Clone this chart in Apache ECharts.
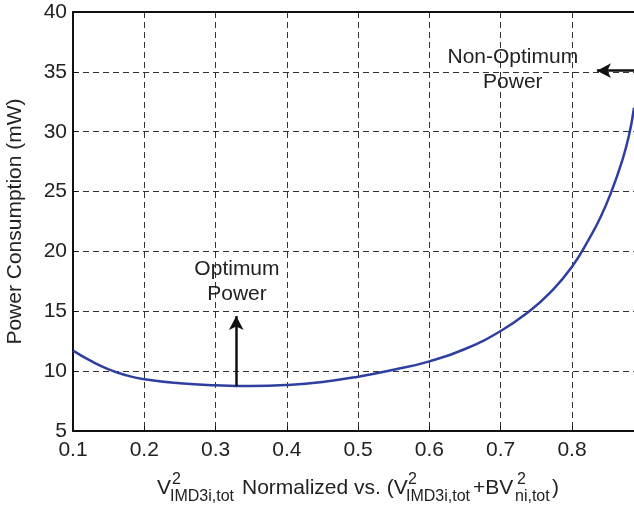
<!DOCTYPE html>
<html><head><meta charset="utf-8">
<script src="https://cdn.jsdelivr.net/npm/echarts@6/dist/echarts.min.js"></script>
<style>html,body{margin:0;padding:0;background:#fff}#c{width:634px;height:509px}</style>
</head><body><div id="c"></div>
<script>
// Data
const xValues = [0.10, 0.125, 0.15, 0.175, 0.20, 0.25, 0.30, 0.35, 0.40, 0.45, 0.50, 0.55, 0.60, 0.65, 0.70, 0.74, 0.77, 0.80, 0.825, 0.84, 0.855, 0.87, 0.88, 0.887];
const powerValues = [11.71, 10.85, 10.15, 9.65, 9.32, 8.99, 8.82, 8.75, 8.84, 9.1, 9.54, 10.12, 10.82, 11.85, 13.35, 15.0, 16.6, 18.72, 21.15, 22.85, 24.95, 27.5, 29.7, 32.0];
const xTicks = [0.1, 0.2, 0.3, 0.4, 0.5, 0.6, 0.7, 0.8];
const yTicks = [5, 10, 15, 20, 25, 30, 35, 40];
const optArrow = [[0.329, 8.75], [0.329, 14.6]];
const nonOptArrow = [[0.887, 35.1], [0.835, 35.1]];
const optLabel = [0.33, 17.45, 'Optimum\nPower'];
const nonOptLabel = [0.717, 35.2, 'Non-Optimum\nPower'];

const FONT = 'Liberation Sans';
const FS = 21, SFS = 16;
const chart = echarts.init(document.getElementById('c'));
const dash = {color: '#333', width: 1, type: [6, 4]};
chart.setOption({
  animation: false,
  grid: {left: 73, top: 12, right: 0, bottom: 78, containLabel: false, outerBoundsMode: 'none'},
  xAxis: [{
    type: 'value', min: 0.1, max: 0.887, interval: 0.1,
    axisLine: {lineStyle: {color: '#111', width: 2}},
    axisTick: {show: true, inside: true, length: 5, lineStyle: {color: '#111', width: 1}},
    axisLabel: {color: '#222', fontFamily: FONT, fontSize: FS, margin: 9, showMaxLabel: false,
      formatter: v => xTicks.some(t => Math.abs(t - v) < 1e-6) ? v.toFixed(1) : ''},
    splitLine: {show: true, lineStyle: dash}
  }, {
    type: 'value', position: 'top', min: 0.1, max: 0.887,
    axisLine: {show: true, lineStyle: {color: '#111', width: 2}},
    axisTick: {show: false}, axisLabel: {show: false}, splitLine: {show: false}
  }],
  yAxis: {
    type: 'value', min: 5, max: 40, interval: 5,
    name: 'Power Consumption (mW)', nameLocation: 'middle', nameGap: 47,
    nameTextStyle: {color: '#222', fontFamily: FONT, fontSize: FS},
    axisLine: {show: true, lineStyle: {color: '#111', width: 2}},
    axisTick: {show: true, inside: true, length: 5, lineStyle: {color: '#111', width: 1}},
    axisLabel: {color: '#222', fontFamily: FONT, fontSize: FS, margin: 6,
      formatter: v => yTicks.includes(v) ? String(v) : ''},
    splitLine: {show: true, lineStyle: dash}
  },
  series: [{
    type: 'line', smooth: 0.5, symbol: 'none',
    data: xValues.map((x, i) => [x, powerValues[i]]),
    lineStyle: {color: '#2f3f9f', width: 2.5},
    markLine: {
      silent: true, animation: false, symbolSize: [11, 14],
      lineStyle: {color: '#111', width: 2.5, type: 'solid'},
      label: {show: false},
      data: [
        [{coord: optArrow[0], symbol: 'none'}, {coord: optArrow[1], symbol: 'arrow'}],
        [{coord: nonOptArrow[0], symbol: 'none'}, {coord: nonOptArrow[1], symbol: 'arrow'}]
      ]
    },
    markPoint: {
      silent: true, symbol: 'circle', symbolSize: 0,
      label: {show: true, position: 'inside', color: '#222', fontFamily: FONT, fontSize: FS, lineHeight: 25,
        formatter: p => p.name},
      data: [
        {name: optLabel[2], coord: [optLabel[0], optLabel[1]]},
        {name: nonOptLabel[2], coord: [nonOptLabel[0], nonOptLabel[1]]}
      ]
    }
  }],
  graphic: [
    {type: 'text', left: 157, top: 478, style: {text: 'V', font: FS + 'px ' + FONT, fill: '#222'}},
    {type: 'text', left: 172, top: 472, style: {text: '2', font: SFS + 'px ' + FONT, fill: '#222'}},
    {type: 'text', left: 170, top: 489, style: {text: 'IMD3i,tot', font: SFS + 'px ' + FONT, fill: '#222'}},
    {type: 'text', left: 242, top: 478, style: {text: 'Normalized vs. (V', font: FS + 'px ' + FONT, fill: '#222'}},
    {type: 'text', left: 408, top: 472, style: {text: '2', font: SFS + 'px ' + FONT, fill: '#222'}},
    {type: 'text', left: 406, top: 489, style: {text: 'IMD3i,tot', font: SFS + 'px ' + FONT, fill: '#222'}},
    {type: 'text', left: 473, top: 478, style: {text: '+BV', font: FS + 'px ' + FONT, fill: '#222'}},
    {type: 'text', left: 517, top: 472, style: {text: '2', font: SFS + 'px ' + FONT, fill: '#222'}},
    {type: 'text', left: 515, top: 489, style: {text: 'ni,tot', font: SFS + 'px ' + FONT, fill: '#222'}},
    {type: 'text', left: 552, top: 478, style: {text: ')', font: FS + 'px ' + FONT, fill: '#222'}}
  ]
});
</script></body></html>
